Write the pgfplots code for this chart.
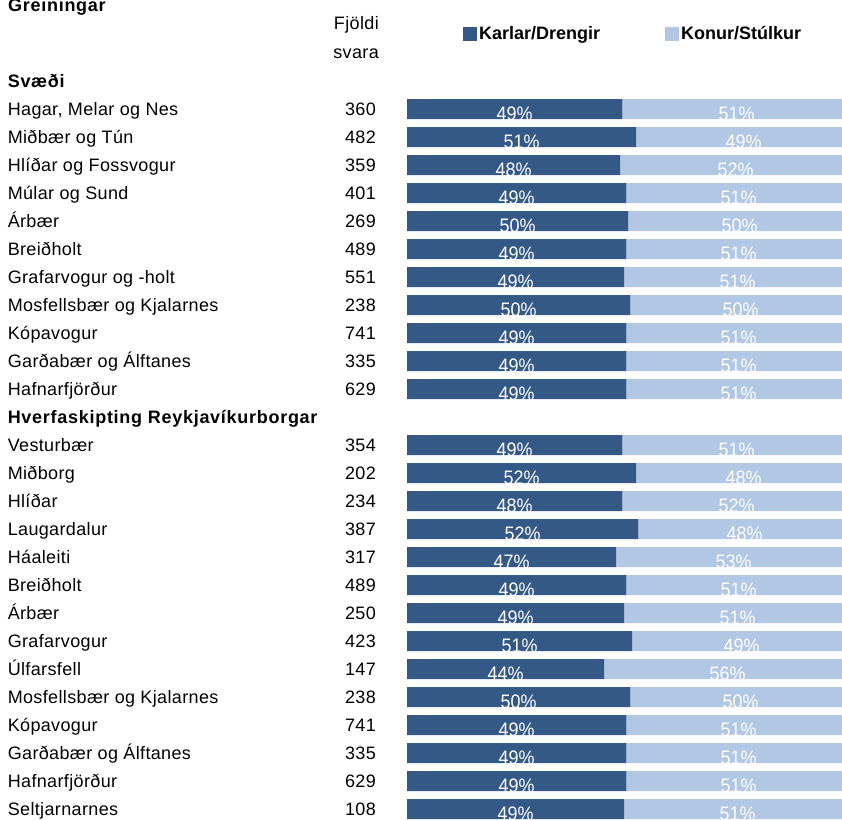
\documentclass[border=0pt]{standalone}
\usepackage{fontspec}
\setmainfont{Liberation Sans}[LetterSpace=2,BoldFeatures={LetterSpace=0}]
\newfontfamily\hdfont{Liberation Sans}[LetterSpace=4]
\newfontfamily\pctfont{Liberation Sans}[FakeStretch=0.92]
\usepackage{pgfplots}
\usepackage{pgfplotstable}
\pgfplotsset{compat=1.18}
\definecolor{dk}{RGB}{52,89,135}
\definecolor{lt}{RGB}{178,199,227}
\newcommand\lbl[2]{\makebox[368pt][l]{#1\hfill#2}}
\newcommand\hd[1]{\makebox[368pt][l]{\hdfont\bfseries #1}}
\pgfplotstableread{
y dark light dl ll
1 48.5 51.5 49 51
2 51.6 48.4 51 49
3 48.0 52.0 48 52
4 49.4 50.6 49 51
5 49.8 50.2 50 50
6 49.4 50.6 49 51
7 48.9 51.1 49 51
8 50.3 49.7 50 50
9 49.4 50.6 49 51
10 49.4 50.6 49 51
11 49.4 50.6 49 51
13 48.5 51.5 49 51
14 51.6 48.4 52 48
15 48.5 51.5 48 52
16 52.1 47.9 52 48
17 47.1 52.9 47 53
18 49.4 50.6 49 51
19 48.9 51.1 49 51
20 50.7 49.3 51 49
21 44.4 55.6 44 56
22 50.3 49.7 50 50
23 49.4 50.6 49 51
24 49.4 50.6 49 51
25 49.4 50.6 49 51
26 48.9 51.1 49 51
}\data
\begin{document}
\fontsize{18pt}{22pt}\selectfont
\begin{tikzpicture}[font=\fontsize{18pt}{22pt}\selectfont]
\begin{axis}[
  at={(407pt,-67pt)}, anchor=north west,
  scale only axis, width=444pt, height=756pt,
  xmin=0, xmax=100, ymin=-0.5, ymax=26.5, y dir=reverse,
  xbar stacked, bar width=20pt,
  xtick=\empty,
  ytick={0,1,...,26},
  yticklabels={
    {\hd{Svæði}},
    {\lbl{Hagar, Melar og Nes}{360}},
    {\lbl{Miðbær og Tún}{482}},
    {\lbl{Hlíðar og Fossvogur}{359}},
    {\lbl{Múlar og Sund}{401}},
    {\lbl{Árbær}{269}},
    {\lbl{Breiðholt}{489}},
    {\lbl{Grafarvogur og -holt}{551}},
    {\lbl{Mosfellsbær og Kjalarnes}{238}},
    {\lbl{Kópavogur}{741}},
    {\lbl{Garðabær og Álftanes}{335}},
    {\lbl{Hafnarfjörður}{629}},
    {\hd{Hverfaskipting Reykjavíkurborgar}},
    {\lbl{Vesturbær}{354}},
    {\lbl{Miðborg}{202}},
    {\lbl{Hlíðar}{234}},
    {\lbl{Laugardalur}{387}},
    {\lbl{Háaleiti}{317}},
    {\lbl{Breiðholt}{489}},
    {\lbl{Árbær}{250}},
    {\lbl{Grafarvogur}{423}},
    {\lbl{Úlfarsfell}{147}},
    {\lbl{Mosfellsbær og Kjalarnes}{238}},
    {\lbl{Kópavogur}{741}},
    {\lbl{Garðabær og Álftanes}{335}},
    {\lbl{Hafnarfjörður}{629}},
    {\lbl{Seltjarnarnes}{108}}},
  axis line style={draw=none},
  major tick length=0pt,
  ytick style={draw=none},
  yticklabel style={anchor=base east, inner sep=0pt, xshift=-31pt, yshift=-6pt},
  legend columns=2,
  legend cell align=left,
  legend image code/.code={\fill[#1,draw=none] (0pt,-7pt) rectangle (14pt,7pt);},
  legend style={at={(axis description cs:0.126,1.0437)}, anchor=west,
    draw=none, fill=none, inner sep=0pt,
    font=\bfseries\fontsize{18pt}{22pt}\selectfont,
    nodes={inner sep=2pt},
    /tikz/every even column/.append style={column sep=63pt}},
]
\addplot[fill=dk, draw=none] table[x=dark, y=y] {\data};
\addlegendentry{Karlar/Drengir}
\addplot[fill=lt, draw=none] table[x=light, y=y] {\data};
\addlegendentry{Konur/Stúlkur}
\end{axis}
\begin{axis}[
  at={(407pt,-67pt)}, anchor=north west,
  scale only axis, width=444pt, height=756pt,
  xmin=0, xmax=100, ymin=-0.5, ymax=26.5, y dir=reverse,
  hide axis,
  point meta=explicit symbolic,
  nodes near coords={\pgfplotspointmeta\%},
  nodes near coords style={anchor=base, yshift=-11pt, text=white, inner sep=0pt,
    font=\pctfont\fontsize{19.5pt}{22pt}\selectfont},
]
\addplot[only marks, mark=none, draw=none] table[x expr=\thisrow{dark}/2, y=y, meta=dl] {\data};
\addplot[only marks, mark=none, draw=none] table[x expr=(\thisrow{dark}+100)/2, y=y, meta=ll] {\data};
\end{axis}
\node[anchor=base west, font=\hdfont\bfseries\fontsize{18pt}{22pt}\selectfont, inner sep=0pt] at (8pt,-12pt) {Greiningar};
\node[anchor=base east, inner sep=0pt] at (379pt,-29pt) {Fjöldi};
\node[anchor=base east, inner sep=0pt] at (379pt,-58pt) {svara};
\pgfresetboundingbox
\useasboundingbox (0pt,0pt) rectangle (842pt,-819pt);
\end{tikzpicture}
\end{document}
